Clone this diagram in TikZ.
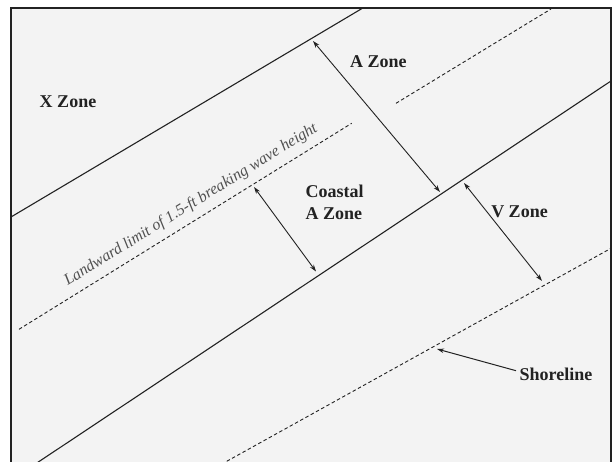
\documentclass[tikz,border=0pt]{standalone}
\usepackage{fontspec}
\setmainfont{Liberation Serif}
\usetikzlibrary{arrows.meta}
\definecolor{bgfill}{HTML}{F3F3F3}
\definecolor{ink}{HTML}{222222}
\definecolor{greytext}{HTML}{505050}
\tikzset{
  zoneline/.style={draw=ink, line width=1.1pt},
  dashline/.style={draw=ink, line width=0.9pt, dash pattern=on 3.5pt off 2.5pt},
  dimarrow/.style={draw=ink, line width=0.9pt, {Stealth[length=7pt,width=4.5pt]}-{Stealth[length=7pt,width=4.5pt]}},
  pointarrow/.style={draw=ink, line width=1pt, -{Stealth[length=7pt,width=4.5pt]}},
  zonelabel/.style={text=ink, font=\bfseries\fontsize{18}{21.8}\selectfont, inner sep=0pt},
  limitlabel/.style={text=greytext, font=\itshape\fontsize{16}{18}\selectfont, inner sep=0pt}
}
\begin{document}
\begin{tikzpicture}[x=1pt,y=-1pt]
\useasboundingbox (0,0) rectangle (616,462);
\clip (0,0) rectangle (616,462);
\fill[bgfill] (11,8) rectangle (611,470);
% zone lines
\coordinate (a1) at (11,217);   \coordinate (a2) at (362,8.5);
\coordinate (b1) at (19,329.3); \coordinate (b2) at (351.7,123.3);
\coordinate (c1) at (396,103.3); \coordinate (c2) at (551,9);
\coordinate (d1) at (26.3,470);  \coordinate (d2) at (611,81);
\coordinate (e1) at (211,470);   \coordinate (e2) at (611,248.3);
\draw[zoneline] (a1) -- (a2);
\draw[dashline] (b1) -- (b2);
\draw[dashline] (c1) -- (c2);
\draw[zoneline] (d1) -- (d2);
\draw[dashline] (e1) -- (e2);
% dimension arrows
\coordinate (az1) at (313,41);   \coordinate (az2) at (440,192);
\coordinate (ca1) at (254,187);  \coordinate (ca2) at (316,271.5);
\coordinate (vz1) at (464,183);  \coordinate (vz2) at (542,281);
\draw[dimarrow] (az1) -- (az2);
\draw[dimarrow] (ca1) -- (ca2);
\draw[dimarrow] (vz1) -- (vz2);
% labels
\node[zonelabel] (xz) at (68,101.7) {X Zone};
\node[zonelabel] (az) at (378.3,61.7) {A Zone};
\node[zonelabel, align=left, anchor=west] (caz) at (305.5,202.4) {Coastal\\A Zone};
\node[zonelabel] (vz) at (519.5,211.7) {V Zone};
\node[zonelabel] (sh) at (556,374.5) {Shoreline};
\coordinate (shtip) at (437,349);
\coordinate (shtail) at (516,370.7);
\draw[pointarrow] (shtail) -- (shtip);
\node[limitlabel, rotate=31.8] (ll) at (191,205) {Landward limit of 1.5-ft breaking wave height};
% frame
\draw[ink, line width=2.2pt] (11,470) -- (11,8) -- (611,8) -- (611,470);
\end{tikzpicture}
\end{document}
